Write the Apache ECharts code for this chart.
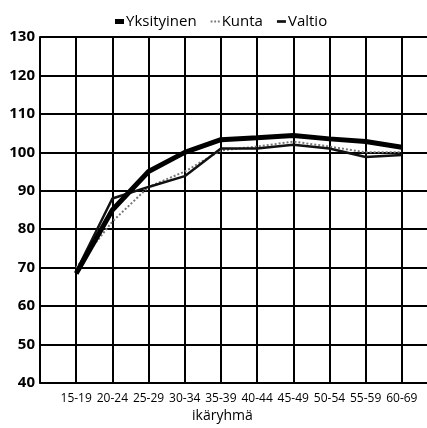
<!DOCTYPE html>
<html><head><meta charset="utf-8">
<script src="https://cdn.jsdelivr.net/npm/echarts@6/dist/echarts.min.js"></script>
<style>html,body{margin:0;padding:0;background:#fff}#c{width:427px;height:428px}</style>
</head><body><div id="c"></div>
<script>
const categories = ['15-19','20-24','25-29','30-34','35-39','40-44','45-49','50-54','55-59','60-69'];
const yksityinen = [68.5, 85, 95, 100, 103.3, 103.8, 104.4, 103.5, 102.8, 101.3];
const kunta = [70, 82, 91, 95, 100.5, 101.5, 102.8, 101.5, 100, 100];
const valtio = [69, 88, 91, 93.8, 101, 101, 102, 101, 98.8, 99.3];
const yTicks = [40, 130, 10];

const cats = [''].concat(categories, ['']);
const pad = a => [null].concat(a, [null]);
const chart = echarts.init(document.getElementById('c'));
const font = 'Open Sans, sans-serif';
chart.setOption({
  animation: false,
  backgroundColor: '#fff',
  grid: {left: 40, top: 37, height: 346, width: 398, outerBoundsMode: 'none', containLabel: false},
  legend: {
    top: 9, left: 110, itemWidth: 9, itemHeight: 5, itemGap: 14,
    textStyle: {fontFamily: font, fontSize: 15, color: '#000', padding: [0, 0, 0, -3]},
    data: [
      {name: 'Yksityinen', icon: 'rect'},
      {name: 'Kunta', icon: 'path://M0,4h2v2h-2zM4,4h2v2h-2zM8,4h2v2h-2z'},
      {name: 'Valtio', icon: 'path://M0,3h10v3h-10z'}
    ]
  },
  xAxis: {
    type: 'category', data: cats, boundaryGap: false,
    axisLine: {show: true, lineStyle: {color: '#000', width: 1.5}},
    axisTick: {show: false},
    splitLine: {show: true, lineStyle: {color: '#000', width: 2}},
    axisLabel: {color: '#000', fontFamily: font, fontSize: 12, margin: 10, interval: 0}
  },
  yAxis: {
    type: 'value', min: yTicks[0], max: yTicks[1], interval: yTicks[2],
    axisLine: {show: true, lineStyle: {color: '#000', width: 2}},
    axisTick: {show: false},
    splitLine: {show: true, lineStyle: {color: '#000', width: 2}},
    axisLabel: {color: '#000', fontFamily: font, fontSize: 15, fontWeight: 'bold', margin: 5}
  },
  graphic: [{type: 'text', left: 192, top: 409, style: {text: 'ikäryhmä', font: '14px ' + font, fill: '#000'}}],
  series: [
    {name: 'Kunta', type: 'line', data: pad(kunta), symbol: 'none', z: 3,
     lineStyle: {color: '#777', width: 2, type: 'dotted'}, itemStyle: {color: '#777'}},
    {name: 'Valtio', type: 'line', data: pad(valtio), symbol: 'none', z: 4,
     lineStyle: {color: '#111', width: 2.5}, itemStyle: {color: '#111'}},
    {name: 'Yksityinen', type: 'line', data: pad(yksityinen), symbol: 'none', z: 5,
     lineStyle: {color: '#000', width: 5}, itemStyle: {color: '#000'}}
  ]
});
</script></body></html>
